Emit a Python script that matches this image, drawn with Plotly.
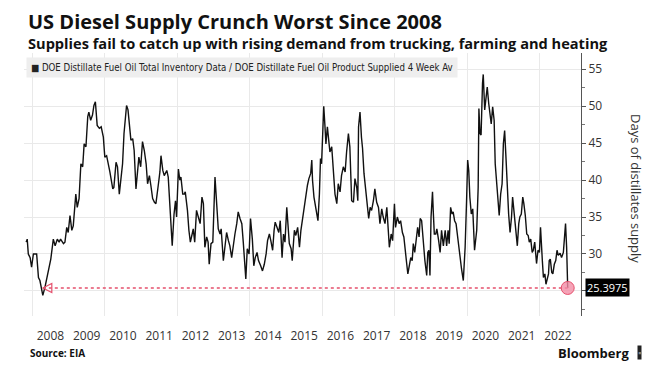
import plotly.graph_objects as go

# ---- data (decimal year, days of supply) ----
t = [2007.83, 2007.86, 2007.89, 2007.94, 2007.98, 2008.03, 2008.12, 2008.17, 2008.21, 2008.26,
     2008.29, 2008.35, 2008.44, 2008.51, 2008.58, 2008.63, 2008.69, 2008.74, 2008.78, 2008.86,
     2008.90, 2008.95, 2008.99, 2009.04, 2009.09, 2009.13, 2009.20, 2009.24, 2009.29, 2009.34,
     2009.39, 2009.43, 2009.48, 2009.53, 2009.56, 2009.61, 2009.66, 2009.70, 2009.74, 2009.79,
     2009.85, 2009.90, 2009.96, 2010.00, 2010.05, 2010.10,
     2010.14, 2010.22, 2010.25, 2010.31, 2010.35, 2010.40, 2010.44, 2010.49, 2010.53, 2010.58,
     2010.60, 2010.64, 2010.68, 2010.72, 2010.77, 2010.81, 2010.86, 2010.90, 2010.94, 2010.99,
     2011.04, 2011.09, 2011.14, 2011.18, 2011.23, 2011.27, 2011.32, 2011.37, 2011.41, 2011.48,
     2011.52, 2011.55, 2011.60, 2011.64, 2011.71, 2011.75, 2011.80, 2011.86, 2011.91, 2011.95,
     2011.98, 2012.03, 2012.07, 2012.10, 2012.15, 2012.19, 2012.22, 2012.28, 2012.32, 2012.36,
     2012.41, 2012.44, 2012.48, 2012.53, 2012.58, 2012.63, 2012.68, 2012.72, 2012.76,
     2012.81, 2012.85, 2012.88, 2012.93, 2012.98, 2013.04, 2013.09, 2013.13, 2013.18, 2013.21,
     2013.27, 2013.32, 2013.36, 2013.41, 2013.45, 2013.50, 2013.55, 2013.59, 2013.64, 2013.68,
     2013.73, 2013.78, 2013.82, 2013.86, 2013.89, 2013.93, 2013.98, 2014.02, 2014.07, 2014.11,
     2014.15, 2014.20, 2014.24, 2014.30, 2014.35, 2014.40, 2014.45, 2014.49, 2014.54, 2014.58,
     2014.63, 2014.67, 2014.70, 2014.75, 2014.80, 2014.84, 2014.89, 2014.93, 2014.97, 2015.02,
     2015.05, 2015.09, 2015.14, 2015.17, 2015.23,
     2015.27, 2015.32, 2015.37, 2015.41, 2015.46, 2015.50, 2015.54, 2015.59, 2015.63, 2015.68,
     2015.71, 2015.73, 2015.77, 2015.82, 2015.84, 2015.88, 2015.92, 2015.95, 2015.98, 2016.01,
     2016.04, 2016.07, 2016.10, 2016.14, 2016.18, 2016.21, 2016.26, 2016.30, 2016.35, 2016.40,
     2016.44, 2016.49, 2016.53, 2016.58, 2016.63, 2016.67, 2016.72, 2016.76, 2016.81, 2016.86,
     2016.90, 2016.95, 2016.98, 2017.00, 2017.04, 2017.08, 2017.11, 2017.15, 2017.21, 2017.24,
     2017.28, 2017.32, 2017.36, 2017.41, 2017.45, 2017.50, 2017.55, 2017.59, 2017.64, 2017.68,
     2017.73,
     2017.78, 2017.81, 2017.85, 2017.90, 2017.94, 2017.99, 2018.02, 2018.07, 2018.12, 2018.16,
     2018.21, 2018.25, 2018.29, 2018.33, 2018.36, 2018.40, 2018.44, 2018.48, 2018.51, 2018.55,
     2018.59, 2018.63, 2018.67, 2018.70, 2018.74, 2018.79, 2018.83, 2018.88, 2018.91, 2018.94,
     2018.97, 2019.00, 2019.04, 2019.06, 2019.09, 2019.13, 2019.16, 2019.21, 2019.25, 2019.29,
     2019.34, 2019.39, 2019.43, 2019.47, 2019.50, 2019.54, 2019.58, 2019.61, 2019.65, 2019.69,
     2019.74, 2019.80, 2019.84, 2019.89, 2019.94, 2019.98, 2020.01, 2020.04, 2020.07, 2020.11,
     2020.15, 2020.20,
     2020.26, 2020.30, 2020.32, 2020.35, 2020.38, 2020.42, 2020.44, 2020.48, 2020.52, 2020.55,
     2020.59, 2020.63, 2020.66, 2020.70, 2020.74, 2020.77, 2020.81, 2020.85, 2020.88, 2020.92,
     2020.96, 2020.995, 2021.03, 2021.07, 2021.10, 2021.14, 2021.18, 2021.22, 2021.25, 2021.29,
     2021.33, 2021.38, 2021.42, 2021.45, 2021.49, 2021.53, 2021.56, 2021.60, 2021.64, 2021.68,
     2021.71, 2021.75, 2021.79, 2021.82, 2021.86, 2021.89, 2021.91, 2021.95, 2021.99, 2022.02,
     2022.04, 2022.07, 2022.10, 2022.14, 2022.17, 2022.21, 2022.24, 2022.26, 2022.29, 2022.33,
     2022.36, 2022.40, 2022.44, 2022.475, 2022.51, 2022.56, 2022.60, 2022.65, 2022.69, 2022.71,
     2022.74, 2022.77]

days = [31.6, 32.0, 30.0, 29.5, 28.2, 30.0, 30.0, 26.8, 26.4, 25.0,
        24.4, 25.5, 27.7, 29.3, 32.0, 31.1, 32.0, 31.6, 32.0, 31.4,
        31.6, 33.6, 32.9, 35.2, 33.2, 33.8, 38.1, 36.3, 37.5, 42.2,
        41.8, 44.9, 44.5, 48.6, 49.2, 48.1, 48.8, 50.1, 50.6, 47.4,
        47.0, 47.2, 45.8, 43.1, 43.3, 42.2,
        41.1, 38.8, 39.0, 42.4, 41.8, 38.1, 40.0, 42.2, 46.3, 49.9,
        50.1, 49.5, 47.2, 45.4, 45.6, 44.0, 38.8, 40.9, 43.1, 41.8,
        45.2, 44.0, 42.2, 39.5, 40.6, 39.3, 37.5, 37.0, 36.8, 39.5,
        41.1, 43.3, 41.3, 40.6, 41.3, 40.4, 36.3, 31.1, 35.4, 37.2,
        35.0, 41.5, 40.0, 40.4, 38.1, 38.1, 38.4, 35.9, 33.2, 31.6,
        32.7, 33.4, 31.6, 35.9, 35.0, 34.1, 37.7, 36.8, 30.9,
        32.3, 31.6, 28.6, 31.4, 31.6, 40.4, 37.2, 33.4, 32.7, 33.4,
        29.1, 31.1, 32.9, 31.8, 31.1, 29.5, 31.8, 32.7, 34.1, 35.7,
        34.8, 34.1, 31.6, 29.1, 26.6, 30.7, 30.0, 34.8, 32.0, 28.4,
        29.5, 30.2, 29.1, 28.4, 27.7, 28.6, 30.0, 31.8, 32.7, 31.8,
        30.5, 33.2, 34.3, 33.6, 32.9, 34.5, 29.5, 32.7, 31.6, 36.3,
        34.5, 31.4, 30.7, 29.1, 33.2,
        32.5, 33.6, 30.9, 33.2, 35.0, 35.9, 38.1, 39.3, 40.2, 40.9,
        42.7, 40.0, 37.7, 36.1, 35.4, 34.5, 38.1, 42.9, 42.2, 47.2,
        50.0, 47.6, 44.9, 47.2, 44.9, 43.8, 44.5, 40.9, 38.1, 36.8,
        39.5, 38.4, 40.6, 41.8, 41.1, 43.8, 46.3, 44.5, 37.2, 37.0,
        40.2, 39.0, 37.2, 47.2, 49.2, 45.8, 44.3, 40.9, 37.7, 36.3,
        34.8, 36.3, 35.9, 37.2, 38.8, 37.0, 36.3, 34.1, 36.1, 35.0,
        34.1,
        36.3, 34.1, 30.9, 32.7, 31.8, 36.8, 33.6, 35.0, 34.1, 34.5,
        32.9, 32.3, 30.0, 28.6, 27.3, 28.2, 29.5, 29.1, 31.4, 30.2,
        31.6, 33.6, 32.3, 34.8, 34.5, 30.9, 29.1, 27.1, 30.2, 30.5,
        27.1, 35.0, 38.4, 35.9, 32.7, 32.7, 33.4, 31.8, 30.2, 33.2,
        31.1, 33.2, 31.1, 33.2, 31.4, 36.3, 35.4, 35.7, 34.5, 34.1,
        31.8, 29.5, 28.0, 26.4, 30.9, 37.2, 42.7, 41.3, 37.7, 35.4,
        36.1, 30.5,
        33.2, 39.0, 49.7, 46.3, 46.1, 53.1, 54.3, 49.5, 51.0, 52.6,
        50.4, 49.0, 47.6, 49.9, 48.1, 42.2, 39.5, 37.2, 35.2, 38.1,
        39.5, 44.9, 46.7, 42.7, 38.6, 35.4, 32.9, 35.0, 37.7, 35.9,
        33.2, 31.1, 34.1, 35.0, 35.4, 37.7, 36.8, 35.2, 32.7, 32.5,
        31.6, 32.0, 30.2, 30.5, 31.6, 29.1, 28.7, 30.5, 30.2, 33.6,
        30.9, 29.1, 26.8, 27.3, 25.9, 26.8, 27.3, 29.1, 29.3, 27.5,
        27.3, 28.6, 29.1, 30.5, 29.8, 30.1, 29.5, 30.2, 32.3, 34.1,
        30.9, 25.3975]

year_labels = list(range(2008, 2023))
y_ticks = [25, 30, 35, 40, 45, 50, 55]

title_text = "US Diesel Supply Crunch Worst Since 2008"
subtitle_text = "Supplies fail to catch up with rising demand from trucking, farming and heating"
legend_text = "DOE Distillate Fuel Oil Total Inventory Data / DOE Distillate Fuel Oil Product Supplied 4 Week Av"
y_title = "Days of distillates supply"
source_text = "Source: EIA"

# ---- layout geometry (pixels) ----
W, H = 658, 389
L, R, T, B = 24, 581, 53, 316


def px(x):
    return (x - L) / (R - L)


def py(y):
    return (B - y) / (B - T)


FONT = "Open Sans, Liberation Sans, sans-serif"
RED = "#e5506c"

fig = go.Figure()
fig.add_trace(go.Scatter(x=t, y=days, mode="lines",
                         line=dict(color="#111111", width=1.4),
                         showlegend=False, hoverinfo="skip"))

last = days[-1]
i_min = days.index(min(days))
fig.add_trace(go.Scatter(x=[t[i_min], t[-1]], y=[last, last], mode="lines",
                         line=dict(color=RED, width=1.4, dash="dot"),
                         showlegend=False, hoverinfo="skip"))
fig.add_trace(go.Scatter(x=[t[i_min]], y=[last], mode="markers",
                         marker=dict(symbol="arrow-left-open", size=9,
                                     color=RED, line=dict(color=RED, width=1.2)),
                         showlegend=False, hoverinfo="skip"))
fig.add_trace(go.Scatter(x=[t[-1]], y=[last], mode="markers",
                         marker=dict(symbol="circle", size=13,
                                     color="rgba(242,140,165,0.8)",
                                     line=dict(color=RED, width=1)),
                         showlegend=False, hoverinfo="skip", cliponaxis=False))

x_lo = 2008 + (L - 32.3) / 36.25
x_hi = 2008 + (R - 32.3) / 36.25

fig.update_layout(
    width=W, height=H,
    margin=dict(l=L, r=W - R, t=T, b=H - B),
    paper_bgcolor="white", plot_bgcolor="white",
    font=dict(family=FONT, color="#333333"),
    showlegend=False,
    xaxis=dict(
        range=[x_lo, x_hi],
        tickvals=[y + 0.5 for y in year_labels],
        ticktext=[str(y) for y in year_labels],
        showgrid=False, zeroline=False, showline=False,
        ticks="outside", ticklen=9, tickcolor="rgba(0,0,0,0)",
        tickfont=dict(size=12, color="#333333"),
        minor=dict(tick0=2008, dtick=2, showgrid=True,
                   gridcolor="#e9e9e9", gridwidth=1, ticks=""),
    ),
    yaxis=dict(
        range=[21.6, 57.2], side="right",
        tickvals=y_ticks, ticktext=["" if v == 25 else str(v) for v in y_ticks],
        showgrid=True, gridcolor="#e9e9e9", gridwidth=1, zeroline=False,
        showline=True, linecolor="#555555", linewidth=1,
        ticks="outside", ticklen=4, tickcolor="#555555",
        tickfont=dict(size=12, color="#333333"),
        minor=dict(dtick=2.5, ticks="outside", ticklen=3, tickcolor="#777777"),
    ),
)

ann = []
ann.append(dict(x=px(26), y=py(21), xref="paper", yref="paper",
                xanchor="left", yanchor="middle", showarrow=False,
                text="<b>" + title_text + "</b>",
                font=dict(size=20, color="#111111", family=FONT)))
ann.append(dict(x=px(26), y=py(43), xref="paper", yref="paper",
                xanchor="left", yanchor="middle", showarrow=False,
                text="<b>" + subtitle_text + "</b>",
                font=dict(size=14.6, color="#111111", family=FONT)))
ann.append(dict(x=px(26), y=py(67), xref="paper", yref="paper",
                xanchor="left", yanchor="middle", showarrow=False,
                text="■ " + legend_text, bgcolor="#eeeeee", borderpad=4,
                font=dict(size=9.6, color="#222222",
                          family="Liberation Sans Narrow, DejaVu Sans Condensed, sans-serif")))
ann.append(dict(x=px(636), y=py(188), xref="paper", yref="paper",
                xanchor="center", yanchor="middle", showarrow=False,
                text=y_title, textangle=90,
                font=dict(size=13, color="#333333", family=FONT)))
ann.append(dict(x=1, y=last, xref="paper", yref="y", xanchor="left",
                yanchor="middle", xshift=4, showarrow=False,
                text=str(last), bgcolor="#000000", borderpad=1,
                font=dict(size=11, color="white", family=FONT)))
ann.append(dict(x=px(28), y=py(353), xref="paper", yref="paper",
                xanchor="left", yanchor="middle", showarrow=False,
                text="<b>" + source_text + "</b>",
                font=dict(size=10, color="#111111", family=FONT)))
ann.append(dict(x=px(631), y=py(353), xref="paper", yref="paper",
                xanchor="right", yanchor="middle", showarrow=False,
                text="<b>Bloomberg</b>",
                font=dict(size=13, color="#111111", family=FONT)))
ann.append(dict(x=px(639), y=py(352), xref="paper", yref="paper",
                xanchor="center", yanchor="middle", showarrow=False,
                text="▪", bgcolor="#222222", borderpad=0,
                font=dict(size=9, color="#888888", family=FONT)))
fig.update_layout(annotations=ann)

fig.write_html("out.html", config={"displayModeBar": False},
               post_script="document.body.style.margin='0';document.body.style.overflow='hidden';")
